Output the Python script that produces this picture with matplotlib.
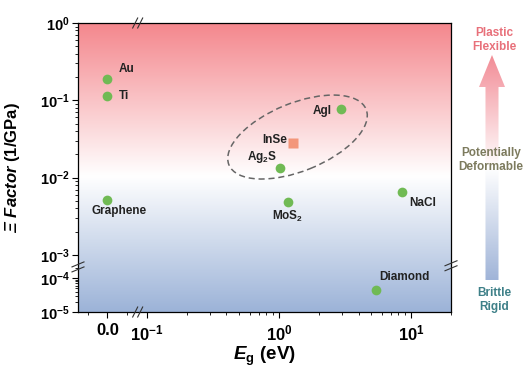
import numpy as np
import matplotlib
matplotlib.use('Agg')
import matplotlib.pyplot as plt
from matplotlib.patches import Ellipse, Polygon
from matplotlib.colors import LinearSegmentedColormap
from matplotlib.ticker import FixedLocator, FixedFormatter, NullFormatter

plt.rcParams['font.family'] = ['Liberation Sans', 'DejaVu Sans']
plt.rcParams['font.weight'] = 'bold'
plt.rcParams['mathtext.fontset'] = 'custom'
plt.rcParams['mathtext.rm'] = 'Liberation Sans:bold'
plt.rcParams['mathtext.bf'] = 'Liberation Sans:bold'
plt.rcParams['mathtext.it'] = 'Liberation Sans:italic:bold'
plt.rcParams['mathtext.bfit'] = 'Liberation Sans:italic:bold'
plt.rcParams['mathtext.default'] = 'bf'

# ---- data ----
materials = ['Au', 'Ti', 'Graphene', 'AgI', 'Ag$_2$S', 'MoS$_2$', 'NaCl', 'Diamond']
band_gap = [0.0, 0.0, 0.0, 2.94, 1.02, 1.17, 8.5, 5.4]          # eV (0.0 = metal / semimetal)
xi_factor = [0.19, 0.115, 0.0052, 0.078, 0.0135, 0.0048, 0.0066, 4.3e-5]  # 1/GPa
inse_gap = [1.28]
inse_xi = [0.0283]

x_major = [0.0, 0.1, 1.0, 10.0]
x_major_labels = ['0.0', '$10^{-1}$', '$10^{0}$', '$10^{1}$']
y_major = [1e-5, 1e-4, 1e-3, 1e-2, 1e-1, 1.0]
y_major_labels = ['$10^{-5}$', '$10^{-4}$', '$10^{-3}$', '$10^{-2}$', '$10^{-1}$', '$10^{0}$']

# label placement (pixel offsets from the point) and alignment
label_pos = [(11, 10, 'left'), (11, 0, 'left'), (12, -11, 'center'), (-9, -2, 'right'),
             (-3, 11, 'right'), (0, -14, 'center'), (7, -11, 'left'), (3, 13, 'left')]

# ---- broken axes as function scales ----
X0_U = -1.298      # position of 0.0 in "decades"
X_LIN = 3.02       # decades per unit in the linear 0.0 panel
X_CUT = 0.0737     # end of the linear panel
XU_CUT = X0_U + X_LIN * X_CUT


def fx(x):
    x = np.asarray(x, float)
    lin = X0_U + X_LIN * x
    lg = np.log10(np.clip(x, 1e-12, None))
    return np.where(x <= X_CUT, lin, np.maximum(lg, XU_CUT))


def fx_inv(u):
    u = np.asarray(u, float)
    return np.where(u <= XU_CUT, (u - X0_U) / X_LIN, 10 ** np.clip(u, -20, 20))


Y_CUT = -3.142     # upper log panel starts here
Y_LO_OFF = -3.2975
Y_LO_SLOPE = 0.44


def fy(y):
    L = np.log10(np.clip(np.asarray(y, float), 1e-12, None))
    low = Y_LO_OFF + (L + 4) * Y_LO_SLOPE
    return np.where(L >= Y_CUT, L, np.minimum(low, Y_CUT))


def fy_inv(u):
    u = np.asarray(u, float)
    return np.where(u >= Y_CUT, 10 ** np.clip(u, -20, 20),
                    10 ** np.clip(-4 + (u - Y_LO_OFF) / Y_LO_SLOPE, -20, 20))


fig = plt.figure(figsize=(5.3, 3.73), dpi=100)
pos = [78 / 530, 61 / 373, 373 / 530, 289 / 373]

# background gradient
bg = fig.add_axes(pos, zorder=0)
bg_cmap = LinearSegmentedColormap.from_list(
    'bg', [(0.0, '#9cb3d8'), (0.47, '#ffffff'), (1.0, '#f4878d')])
grad = np.linspace(0, 1, 256).reshape(-1, 1)
bg.imshow(grad, cmap=bg_cmap, aspect='auto', extent=[0, 1, 0, 1], origin='lower')
bg.axis('off')

ax = fig.add_axes(pos, zorder=1)
ax.patch.set_alpha(0)
ax.set_xscale('function', functions=(fx, fx_inv))
ax.set_yscale('function', functions=(fy, fy_inv))
ax.set_xlim(-0.0738, 20)
ax.set_ylim(1e-5, 1)

ax.plot(band_gap, xi_factor, 'o', color='#70ba54', ms=7, mec='none', zorder=3)
ax.plot(inse_gap, inse_xi, 's', color='#f3967a', ms=7, mec='none', zorder=3)

for name, xv, yv, (dx, dy, ha) in zip(materials, band_gap, xi_factor, label_pos):
    ax.annotate(name, (xv, yv), xytext=(dx, dy), textcoords='offset pixels',
                ha=ha, va='center', fontsize=8.5, fontweight='bold', color='#222222')
ax.annotate('InSe', (inse_gap[0], inse_xi[0]), xytext=(-6, 3), textcoords='offset pixels',
            ha='right', va='center', fontsize=8.5, fontweight='bold', color='#222222')

x_minor = [-0.05, 0.05] + [k * 0.1 for k in range(2, 10)] + list(range(2, 10)) + [20]
y_minor = [k * 1e-5 for k in range(2, 10)] + [2e-4] + \
    [k * 10.0 ** e for e in (-3, -2, -1) for k in range(2, 10)]
ax.xaxis.set_major_locator(FixedLocator(x_major))
ax.xaxis.set_major_formatter(FixedFormatter(x_major_labels))
ax.xaxis.set_minor_locator(FixedLocator(x_minor))
ax.xaxis.set_minor_formatter(NullFormatter())
ax.yaxis.set_major_locator(FixedLocator(y_major))
ax.yaxis.set_major_formatter(FixedFormatter(y_major_labels))
ax.yaxis.set_minor_locator(FixedLocator(y_minor))
ax.yaxis.set_minor_formatter(NullFormatter())
ax.tick_params(which='major', direction='out', length=4, width=0.8, top=False, right=False)
ax.tick_params(which='minor', direction='out', length=2.5, width=0.6, top=False, right=False)
ax.tick_params(axis='x', labelsize=12, pad=4)
ax.tick_params(axis='y', labelsize=10.5, pad=2)
for s in ax.spines.values():
    s.set_linewidth(0.9)

ax.set_xlabel(r'$\mathbfit{E}_\mathbf{g}$ (eV)', fontsize=13.5, fontweight='bold')
ax.xaxis.set_label_coords(0.5, -0.115)
ax.xaxis.label.set_va('top')
ax.set_ylabel(r'$\mathbfit{\Xi\ Factor}$ (1/GPa)', fontsize=12, fontweight='bold')
ax.yaxis.set_label_coords(-0.15, 0.5)

# overlay in pixel units for the ellipse, break marks and side arrow
ov = fig.add_axes([0, 0, 1, 1], zorder=2)
ov.set_xlim(0, 530)
ov.set_ylim(0, 373)
ov.axis('off')
ov.patch.set_visible(False)

cx, cy = ax.transData.transform((1.38, 0.0335))
ov.add_patch(Ellipse((cx, cy), 148, 68, angle=22, fill=False, ec='#666666',
                     lw=1.1, ls=(0, (4, 2.5))))

# break marks
for fx_, fy_ in [(0.16, 0), (0.16, 1)]:
    px, py = ax.transAxes.transform((fx_, fy_))
    for d in (-2.5, 2.5):
        ov.plot([px + d - 2.5, px + d + 2.5], [py - 5, py + 5], color='#333333', lw=0.8)
for fx_, fy_ in [(0, 0.156), (1, 0.16)]:
    px, py = ax.transAxes.transform((fx_, fy_))
    for d in (-2.5, 2.5):
        ov.plot([px - 6, px + 6], [py + d - 2.5, py + d + 2.5], color='#333333', lw=0.8)

# side arrow with gradient
acx, ybot, yhead, ytip = 492, 93, 286, 318
arrow = Polygon([(acx - 6.5, ybot), (acx + 6.5, ybot), (acx + 6.5, yhead), (acx + 13, yhead),
                 (acx, ytip), (acx - 13, yhead), (acx - 6.5, yhead)], closed=True,
                fc='none', ec='none')
ov.add_patch(arrow)
arr_cmap = LinearSegmentedColormap.from_list(
    'arr', [(0.0, '#a0b4d8'), (0.5, '#ffffff'), (1.0, '#f28c96')])
im = ov.imshow(grad, cmap=arr_cmap, aspect='auto', origin='lower',
               extent=[acx - 13, acx + 13, ybot, ytip])
im.set_clip_path(arrow)
ov.set_xlim(0, 530)
ov.set_ylim(0, 373)

fig.text(494 / 530, 1 - 40 / 373, 'Plastic\nFlexible', ha='center', va='center',
         fontsize=8.5, fontweight='bold', color='#e8707a', linespacing=1.15)
fig.text(491 / 530, 1 - 160 / 373, 'Potentially\nDeformable', ha='center', va='center',
         fontsize=8.5, fontweight='bold', color='#7d7b5e', linespacing=1.15, zorder=3)
fig.text(494 / 530, 1 - 300 / 373, 'Brittle\nRigid', ha='center', va='center',
         fontsize=8.5, fontweight='bold', color='#3e8088', linespacing=1.15)

fig.savefig('out.png', dpi=100)
